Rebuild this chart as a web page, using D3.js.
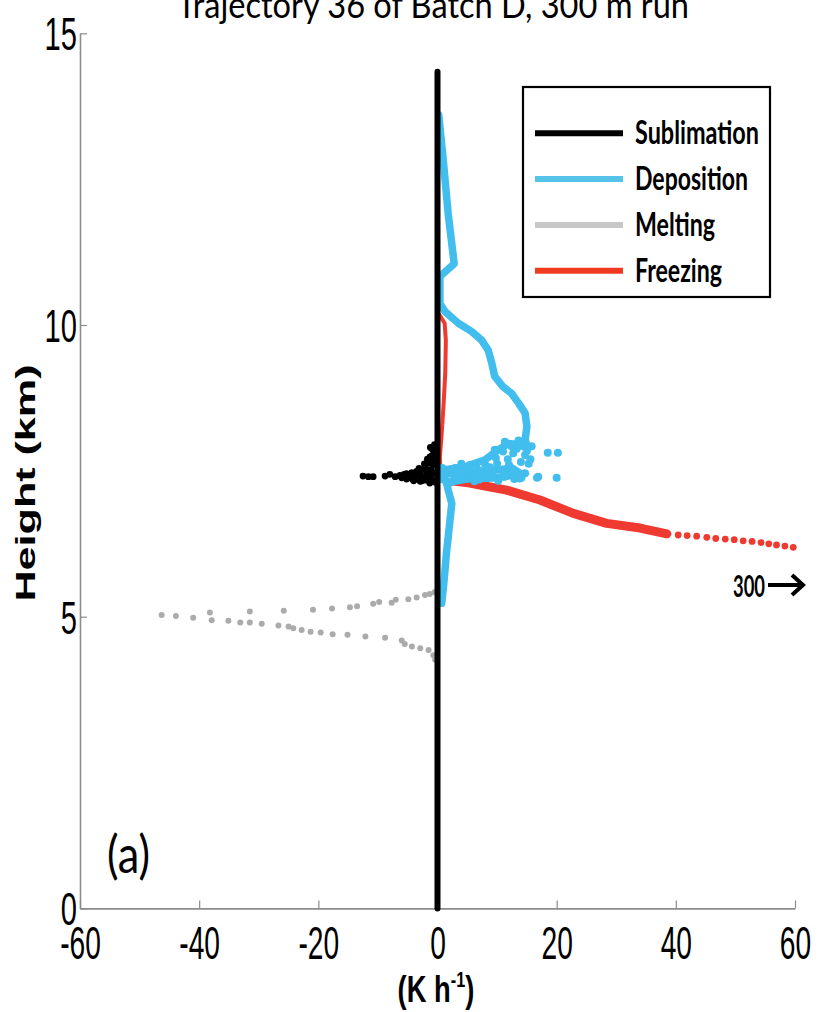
<!DOCTYPE html>
<html><head><meta charset="utf-8">
<script src="https://cdn.jsdelivr.net/npm/d3@7/dist/d3.min.js"></script>
<style>
html,body{margin:0;padding:0;background:#fff;}
svg{display:block;}
</style>
</head><body>
<div id="chart"></div>
<script>
// ---------- DATA ----------
const titleText = "Trajectory 36 of Batch D, 300 m run";
const xTicks = [-60, -40, -20, 0, 20, 40, 60];
const yTicks = [0, 5, 10, 15];
const seriesNames = ["Sublimation", "Deposition", "Melting", "Freezing"];

// Sublimation: column at 0 plus scatter near 7.4 km  [rate (K/h), height (km)]
const sublimationColumn = [[0, 0], [0, 14.34]];
const sublimationDots = [
  [-12.5,7.41],[-11.6,7.40],[-10.8,7.40],[-8.8,7.41],[-8.0,7.44],[-7.1,7.40],
  [-6.3,7.42],[-6.0,7.38],[-5.6,7.44],[-5.2,7.45],[-5.2,7.36],[-4.7,7.40],[-4.3,7.47],
  [-4.3,7.37],[-3.8,7.43],[-3.5,7.49],[-3.4,7.36],[-2.9,7.32],[-2.9,7.44],[-2.65,7.52],
  [-2.4,7.40],[-2.1,7.55],[-1.9,7.34],[-1.8,7.47],[-1.5,7.63],[-1.5,7.40],[-1.3,7.29],
  [-1.26,7.74],[-1.1,7.52],[-1.0,7.43],[-0.8,7.86],[-0.8,7.34],[-0.7,7.60],[-0.5,7.95],
  [-0.5,7.47],[-0.4,7.70],[-0.3,7.30],[-0.3,7.82],[-2.2,7.62],[-1.7,7.70],[-1.0,7.66],
  [-0.9,7.76],[-3.1,7.54],[-2.6,7.33],[-4.0,7.33],[-1.2,7.90]
];

// Deposition trajectory and scattered points
const depositionLine = [
  [0.2,13.6],[0.9,12.9],[1.8,11.9],[2.8,11.05],[0.4,10.83],[0.4,10.37],[1.26,10.23],
  [3.5,10.03],[5.7,9.89],[7.4,9.74],[8.5,9.57],[9.1,9.35],[9.6,9.12],[11.0,8.94],
  [12.4,8.83],[13.6,8.66],[14.7,8.49],[15.0,8.26],[14.7,8.03],[15.2,7.89],[13.5,7.95],
  [11.9,7.97],[10.2,7.86],[8.0,7.69],[4.6,7.57],[1.3,7.52],[0.3,7.45],[5.0,7.48],
  [9.0,7.50],[12.5,7.55],[14.0,7.45],[10.0,7.38],[5.0,7.36],[1.5,7.30],[1.8,7.17],
  [2.4,6.94],[2.1,6.66],[1.8,6.37],[1.5,6.09],[1.26,5.80],[1.0,5.51],[0.7,5.23]
];
const depositionDots = [
  [1.3,7.34],[2.9,7.37],[4.6,7.46],[6.8,7.52],[9.1,7.46],[11.3,7.40],[13.8,7.37],
  [14.7,7.46],[16.9,7.40],[14.1,7.38],[16.7,7.38],[20.0,7.38],[18.5,7.81],[20.2,7.81],
  [9.6,7.86],[11.3,8.00],[12.7,7.80],[14.7,7.77],[15.8,7.92],[2.0,7.45],[4.0,7.38],
  [6.0,7.42],[8.0,7.60],[10.0,7.62],[12.0,7.60],[13.0,7.50],[11.8,7.70],[7.0,7.35],
  [0.8,7.55],[3.0,7.55],[5.5,7.60],[13.3,7.88],[15.3,7.62],[1.0,7.42],[2.2,7.30],
  [3.6,7.47],[5.2,7.52],[6.2,7.32],[7.6,7.44],[8.6,7.38],[10.6,7.52],[12.2,7.45],
  [9.8,7.72],[11.0,7.83],[12.4,7.92],[14.0,7.65],[15.0,7.84],[8.8,7.56],[4.0,7.62],
  [6.5,7.62],[0.5,7.36],[13.6,8.02],[15.6,7.70],[12.9,7.36],[10.2,7.33]
];

// Melting (two branches of dots)
const meltingUpper = [
  [-46.3,5.03],[-43.9,5.01],[-41.0,4.98],[-38.2,5.07],[-31.5,5.09],[-25.8,5.10],
  [-20.9,5.12],[-17.7,5.14],[-14.7,5.16],[-13.5,5.18],[-10.8,5.22],[-9.8,5.25],
  [-7.7,5.24],[-7.0,5.29],[-4.9,5.30],[-3.5,5.33],[-2.1,5.37],[-1.3,5.39],[-0.5,5.42]
];
const meltingLower = [
  [-37.9,4.94],[-35.1,4.93],[-33.1,4.90],[-31.5,4.90],[-29.5,4.88],[-26.7,4.85],
  [-25.0,4.83],[-24.2,4.80],[-22.8,4.77],[-21.3,4.74],[-19.6,4.73],[-17.6,4.70],
  [-15.1,4.69],[-12.1,4.66],[-8.8,4.64],[-6.0,4.59],[-5.5,4.53],[-4.3,4.49],
  [-2.9,4.46],[-1.5,4.43],[-0.7,4.34],[-0.4,4.26]
];

// Freezing
const freezingUpper = [
  [0.3,10.18],[1.2,10.03],[1.4,9.74],[1.3,9.17],[1.0,8.60],[0.7,8.14],[0.4,7.74],[0.5,7.40]
];
const freezingLower = [
  [3.0,7.32],[5.45,7.29],[8.0,7.24],[11.6,7.17],[17.2,7.00],[22.8,6.77],[28.4,6.60],
  [34.0,6.52],[38.5,6.42]
];
const freezingTail = [
  [40.4,6.40],[41.9,6.39],[43.5,6.38],[45.2,6.36],[46.7,6.34],[48.3,6.33],[49.8,6.32],
  [51.3,6.30],[52.8,6.29],[54.3,6.27],[55.6,6.25],[56.9,6.23],[58.3,6.21],[59.7,6.19]
];
const offscaleLabel = "300";

// ---------- STYLE ----------
const W = 818, H = 1012;
const colors = {Sublimation:"#000000", Deposition:"#41bdee", Melting:"#ababab", Freezing:"#ef3a31"};
const legendColors = {Sublimation:"#000000", Deposition:"#55c4e8", Melting:"#c8c8c8", Freezing:"#ef3a1f"};
const axisColor = "#8c8c8c";

const svg = d3.select("#chart").append("svg").attr("width", W).attr("height", H);

const x = d3.scaleLinear().domain([-60, 60]).range([80, 795]);
const y = d3.scaleLinear().domain([0, 15]).range([908.4, 33.3]);

// Title (partially cut off at top, as in the original)
svg.append("text")
  .attr("x", 433).attr("y", 18)
  .attr("text-anchor", "middle")
  .attr("font-family", "Lato, sans-serif")
  .attr("font-size", 37)
  .attr("textLength", 512).attr("lengthAdjust", "spacingAndGlyphs")
  .attr("fill", "#000")
  .text(titleText);

// Axes
const fmt = d => String(d);
const gx = svg.append("g").attr("transform", `translate(0,${y(0)})`)
  .call(d3.axisBottom(x).tickValues(xTicks).tickSizeInner(-8).tickSizeOuter(0).tickFormat(fmt));
const gy = svg.append("g").attr("transform", `translate(${x(-60)},0)`)
  .call(d3.axisLeft(y).tickValues(yTicks).tickSizeInner(-7).tickSizeOuter(0).tickFormat(fmt));

[gx, gy].forEach(g => {
  g.select(".domain").attr("stroke", axisColor).attr("stroke-width", 1.6);
  g.selectAll(".tick line").attr("stroke", axisColor).attr("stroke-width", 1.2);
  g.selectAll(".tick text")
    .attr("fill", "#000")
    .attr("font-family", "'Liberation Sans', Arial, sans-serif")
    .attr("font-size", 47);
});
gx.selectAll(".tick text").attr("y", 0).attr("dy", 0)
  .attr("transform", "translate(0,51) scale(0.6,1)");
gy.selectAll(".tick text").attr("x", 0).attr("dy", "0.35em")
  .attr("transform", "translate(-3,0) scale(0.62,1)");

// Axis titles
svg.append("text")
  .attr("transform", "translate(35,483) rotate(-90)")
  .attr("text-anchor", "middle")
  .attr("font-family", "'Liberation Sans', Arial, sans-serif")
  .attr("font-weight", "bold")
  .attr("font-size", 28)
  .attr("textLength", 237).attr("lengthAdjust", "spacingAndGlyphs")
  .text("Height (km)");

const xl = svg.append("text")
  .attr("transform", "translate(436,1002) scale(0.74,1)")
  .attr("text-anchor", "middle")
  .attr("font-family", "'Liberation Sans', Arial, sans-serif")
  .attr("font-weight", "bold")
  .attr("font-size", 37);
xl.append("tspan").text("(K h");
xl.append("tspan").attr("font-size", 22).attr("dy", -15).text("-1");
xl.append("tspan").attr("dy", 15).text(")");

// Data layers
const line = d3.line().x(d => x(d[0])).y(d => y(d[1])).curve(d3.curveLinear);
const plot = svg.append("g");

// Melting dots
plot.append("g").selectAll("circle").data(meltingUpper.concat(meltingLower)).join("circle")
  .attr("cx", d => x(d[0])).attr("cy", d => y(d[1])).attr("r", 3)
  .attr("fill", colors.Melting);

// Freezing
plot.append("path").datum(freezingUpper).attr("d", line)
  .attr("fill", "none").attr("stroke", colors.Freezing).attr("stroke-width", 4)
  .attr("stroke-linejoin", "round").attr("stroke-linecap", "round");
plot.append("path").datum(freezingLower).attr("d", line)
  .attr("fill", "none").attr("stroke", colors.Freezing).attr("stroke-width", 9)
  .attr("stroke-linejoin", "round").attr("stroke-linecap", "round");
plot.append("g").selectAll("circle").data(freezingTail).join("circle")
  .attr("cx", d => x(d[0])).attr("cy", d => y(d[1])).attr("r", 3.4)
  .attr("fill", colors.Freezing);

// Deposition
plot.append("path").datum(depositionLine).attr("d", line)
  .attr("fill", "none").attr("stroke", colors.Deposition).attr("stroke-width", 7.5)
  .attr("stroke-linejoin", "round").attr("stroke-linecap", "round");
plot.append("g").selectAll("circle").data(depositionDots).join("circle")
  .attr("cx", d => x(d[0])).attr("cy", d => y(d[1])).attr("r", 4)
  .attr("fill", colors.Deposition);

// Sublimation
plot.append("path").datum(sublimationColumn).attr("d", line)
  .attr("fill", "none").attr("stroke", colors.Sublimation).attr("stroke-width", 6)
  .attr("stroke-linecap", "round");
plot.append("g").selectAll("circle").data(sublimationDots).join("circle")
  .attr("cx", d => x(d[0])).attr("cy", d => y(d[1])).attr("r", 3.4)
  .attr("fill", colors.Sublimation);

// Off-scale annotation
svg.append("text")
  .attr("x", 733).attr("y", 597)
  .attr("font-family", "Lato, sans-serif").attr("font-weight", "bold")
  .attr("font-size", 30)
  .attr("textLength", 32).attr("lengthAdjust", "spacingAndGlyphs")
  .text(offscaleLabel);
svg.append("path")
  .attr("d", "M768,585 L802,585 M792,575 L803,585 L792,595")
  .attr("fill", "none").attr("stroke", "#000").attr("stroke-width", 4)
  .attr("stroke-linejoin", "miter");

// Panel label
svg.append("text")
  .attr("x", 107).attr("y", 873)
  .attr("font-family", "Lato, sans-serif")
  .attr("font-size", 52)
  .attr("textLength", 43).attr("lengthAdjust", "spacingAndGlyphs")
  .text("(a)");

// Legend
const lg = svg.append("g");
lg.append("rect").attr("x", 523).attr("y", 87).attr("width", 247).attr("height", 210)
  .attr("fill", "#fff").attr("stroke", "#000").attr("stroke-width", 2.2);
const legendRowY = d3.scalePoint().domain(seriesNames).range([133.3, 270.7]);
const legendTextLen = {Sublimation:124, Deposition:113, Melting:80, Freezing:87};
seriesNames.forEach(name => {
  const yy = legendRowY(name);
  lg.append("line").attr("x1", 535).attr("x2", 623).attr("y1", yy).attr("y2", yy)
    .attr("stroke", legendColors[name]).attr("stroke-width", 6);
  lg.append("text").attr("x", 635).attr("y", yy + 11)
    .attr("font-family", "Lato, sans-serif").attr("font-weight", "bold")
    .attr("font-size", 32)
    .attr("textLength", legendTextLen[name]).attr("lengthAdjust", "spacingAndGlyphs")
    .text(name);
});
</script>
</body></html>
